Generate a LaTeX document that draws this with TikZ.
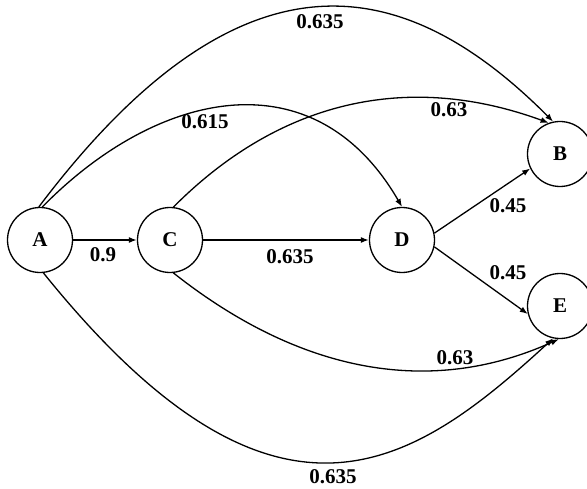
\documentclass[tikz,border=0pt]{standalone}
\usepackage{fontspec}
\setmainfont{Liberation Serif}
\usetikzlibrary{arrows.meta}
\begin{document}
\begin{tikzpicture}[x=1pt, y=-1pt, line join=round,
    font=\fontsize{21}{24}\selectfont\bfseries]
  \path[use as bounding box] (0,0) rectangle (587,489);
  \fill[white] (0,0) rectangle (587,489);
  \tikzset{
    state/.style={circle, draw, line width=1.3pt, minimum size=65pt, inner sep=0pt},
    link/.style={line width=1.3pt, -{Latex[length=8pt,width=6pt]}},
    weight/.style={inner sep=1pt}
  }
  % States, placed at their pixel positions.
  \node[state] (A) at (40,240) {A};
  \node[state] (C) at (170,240) {C};
  \node[state] (D) at (402,240) {D};
  \node[state] (B) at (560,154) {B};
  \node[state] (E) at (560,306) {E};
  % Straight links along the middle row and out of D.
  \draw[link] (A) -- (C);
  \draw[link] (C) -- (D);
  \draw[link] (D.12) -- (B.206);
  \draw[link] (D.-12) -- (E.194);
  % Arcs over the top and under the bottom.
  \draw[link] (A.92) .. controls (244,-65) and (407,-25) .. (B.102);
  \draw[link] (A.86) .. controls (157,90) and (314,55) .. (D.90);
  \draw[link] (C.84) .. controls (279,101) and (407,71) .. (B.110);
  \draw[link] (C.-84) .. controls (291,366) and (422,401) .. (E.268);
  \draw[link] (A.-84) .. controls (277,563) and (414,466) .. (E.258);
  % Weights on the links.
  \node[weight] (wac) at (103,255) {0.9};
  \node[weight] (wcd) at (290,257) {0.635};
  \node[weight] (wdb) at (508,206) {0.45};
  \node[weight] (wde) at (508,273) {0.45};
  \node[weight] (wab) at (320,22) {0.635};
  \node[weight] (wad) at (205,122) {0.615};
  \node[weight] (wcb) at (449,110) {0.63};
  \node[weight] (wce) at (455,358) {0.63};
  \node[weight] (wae) at (333,477) {0.635};
\end{tikzpicture}
\end{document}
